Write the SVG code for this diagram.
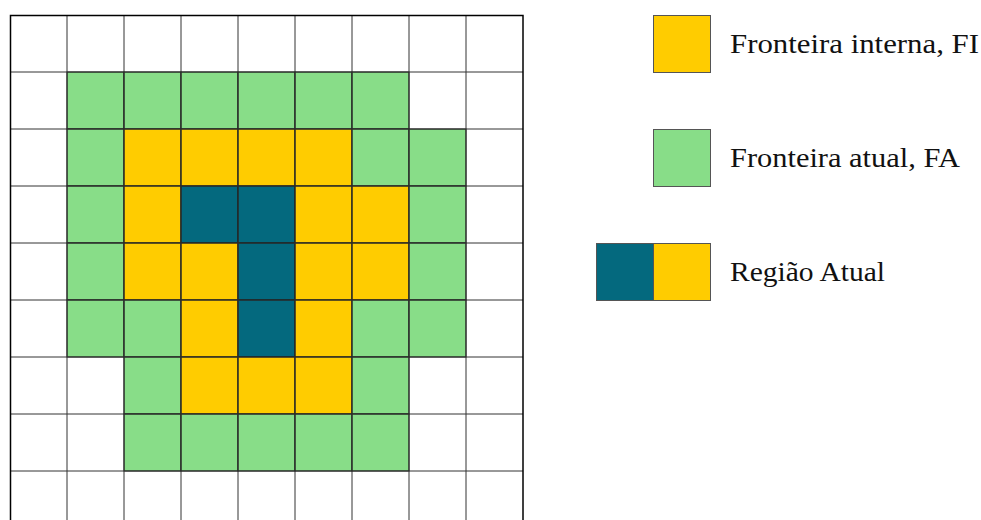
<svg xmlns="http://www.w3.org/2000/svg" width="981" height="520" viewBox="0 0 981 520">
<style>
.w{fill:#ffffff}
.g{fill:#88dd88}
.y{fill:#ffcc00}
.t{fill:#04697e}
.c{stroke:#111;stroke-width:1}
.grid{stroke:#333;stroke-width:1;fill:none}
.lg{stroke:#555;stroke-width:1}
.lbl{font-family:"Liberation Serif","Times New Roman",serif;font-size:27px;fill:#111}
</style>
<rect width="981" height="520" fill="#fff"/>
<g id="grid">
<g id="cells" class="c">
<!-- row 1 -->
<rect class="g" x="67" y="72" width="57" height="57"/>
<rect class="g" x="124" y="72" width="57" height="57"/>
<rect class="g" x="181" y="72" width="57" height="57"/>
<rect class="g" x="238" y="72" width="57" height="57"/>
<rect class="g" x="295" y="72" width="57" height="57"/>
<rect class="g" x="352" y="72" width="57" height="57"/>
<!-- row 2 -->
<rect class="g" x="67" y="129" width="57" height="57"/>
<rect class="y" x="124" y="129" width="57" height="57"/>
<rect class="y" x="181" y="129" width="57" height="57"/>
<rect class="y" x="238" y="129" width="57" height="57"/>
<rect class="y" x="295" y="129" width="57" height="57"/>
<rect class="g" x="352" y="129" width="57" height="57"/>
<rect class="g" x="409" y="129" width="57" height="57"/>
<!-- row 3 -->
<rect class="g" x="67" y="186" width="57" height="57"/>
<rect class="y" x="124" y="186" width="57" height="57"/>
<rect class="t" x="181" y="186" width="57" height="57"/>
<rect class="t" x="238" y="186" width="57" height="57"/>
<rect class="y" x="295" y="186" width="57" height="57"/>
<rect class="y" x="352" y="186" width="57" height="57"/>
<rect class="g" x="409" y="186" width="57" height="57"/>
<!-- row 4 -->
<rect class="g" x="67" y="243" width="57" height="57"/>
<rect class="y" x="124" y="243" width="57" height="57"/>
<rect class="y" x="181" y="243" width="57" height="57"/>
<rect class="t" x="238" y="243" width="57" height="57"/>
<rect class="y" x="295" y="243" width="57" height="57"/>
<rect class="y" x="352" y="243" width="57" height="57"/>
<rect class="g" x="409" y="243" width="57" height="57"/>
<!-- row 5 -->
<rect class="g" x="67" y="300" width="57" height="57"/>
<rect class="g" x="124" y="300" width="57" height="57"/>
<rect class="y" x="181" y="300" width="57" height="57"/>
<rect class="t" x="238" y="300" width="57" height="57"/>
<rect class="y" x="295" y="300" width="57" height="57"/>
<rect class="g" x="352" y="300" width="57" height="57"/>
<rect class="g" x="409" y="300" width="57" height="57"/>
<!-- row 6 -->
<rect class="g" x="124" y="357" width="57" height="57"/>
<rect class="y" x="181" y="357" width="57" height="57"/>
<rect class="y" x="238" y="357" width="57" height="57"/>
<rect class="y" x="295" y="357" width="57" height="57"/>
<rect class="g" x="352" y="357" width="57" height="57"/>
<!-- row 7 -->
<rect class="g" x="124" y="414" width="57" height="57"/>
<rect class="g" x="181" y="414" width="57" height="57"/>
<rect class="g" x="238" y="414" width="57" height="57"/>
<rect class="g" x="295" y="414" width="57" height="57"/>
<rect class="g" x="352" y="414" width="57" height="57"/>
</g>
<path class="grid" d="M67 15V528M124 15V528M181 15V528M238 15V528M295 15V528M352 15V528M409 15V528M466 15V528M10 72H523M10 129H523M10 186H523M10 243H523M10 300H523M10 357H523M10 414H523M10 471H523"/>
<rect x="10.5" y="15.5" width="512.5" height="520" fill="none" stroke="#000" stroke-width="1.5"/>
</g>
<g id="legend-fi">
<rect class="y lg" x="653.5" y="15.5" width="57" height="57"/>
<text class="lbl" x="730" y="53" textLength="249" lengthAdjust="spacingAndGlyphs">Fronteira interna, FI</text>
</g>
<g id="legend-fa">
<rect class="g lg" x="653.5" y="129.5" width="57" height="57"/>
<text class="lbl" x="730" y="167" textLength="230" lengthAdjust="spacingAndGlyphs">Fronteira atual, FA</text>
</g>
<g id="legend-ra">
<rect class="t lg" x="596.5" y="243.5" width="57" height="57"/>
<rect class="y lg" x="653.5" y="243.5" width="57" height="57"/>
<text class="lbl" x="730" y="281" textLength="155" lengthAdjust="spacingAndGlyphs">Região Atual</text>
</g>
</svg>
